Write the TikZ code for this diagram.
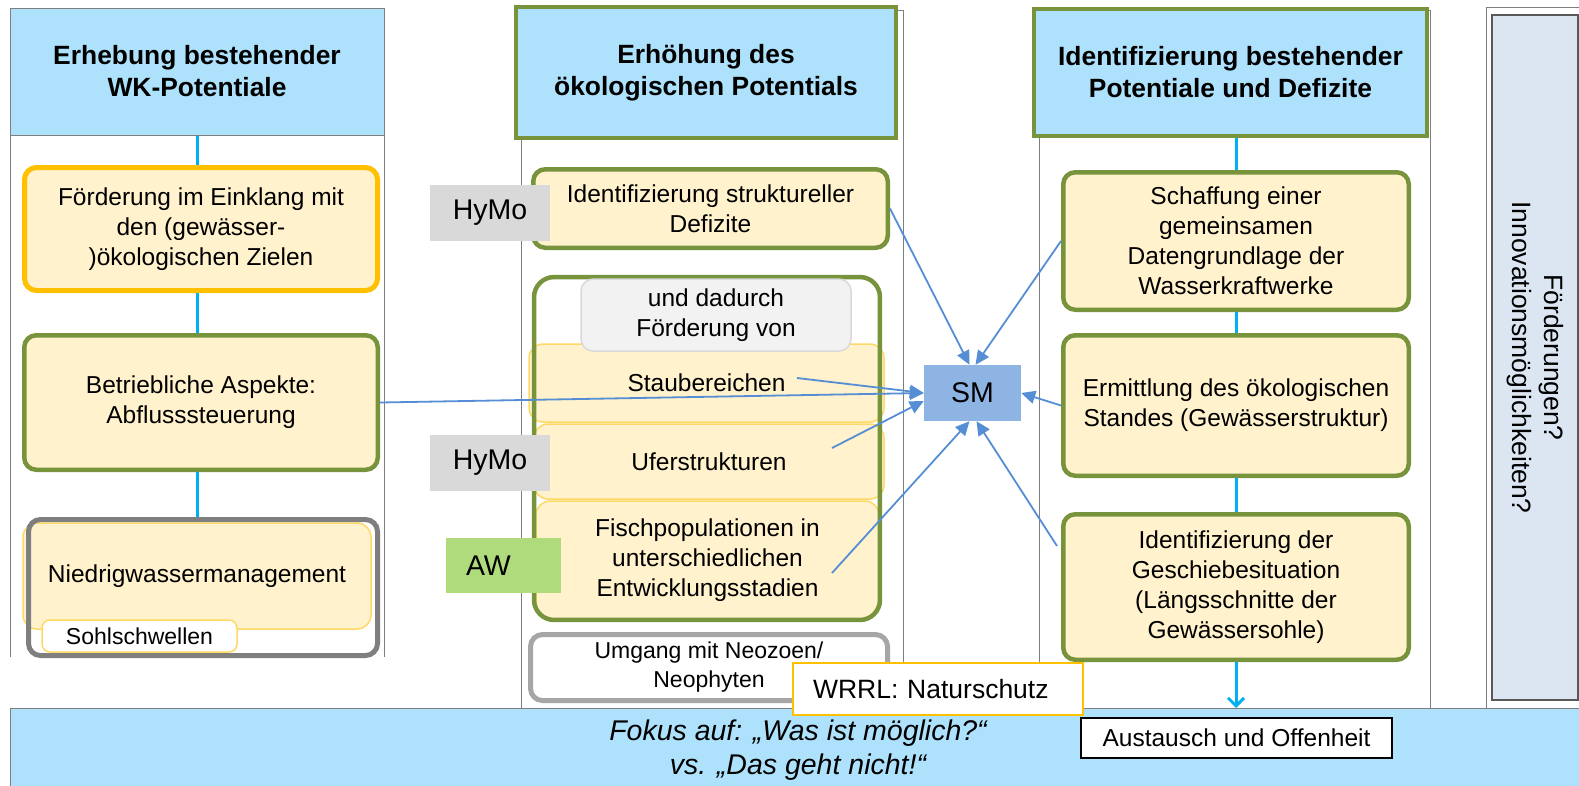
\documentclass[tikz,border=0pt]{standalone}
\usepackage{fontspec}
\setmainfont{Liberation Sans}
\usepackage{tikz}
\usetikzlibrary{arrows.meta}
\definecolor{kopfblau}{RGB}{174,226,252}
\definecolor{gruen}{RGB}{119,147,60}
\definecolor{gelbfill}{RGB}{255,242,204}
\definecolor{gold}{RGB}{255,192,0}
\definecolor{hellgold}{RGB}{255,217,102}
\definecolor{grau}{RGB}{127,127,127}
\definecolor{hellgrau}{RGB}{166,166,166}
\definecolor{hymograu}{RGB}{217,217,217}
\definecolor{awgruen}{RGB}{176,219,125}
\definecolor{smblau}{RGB}{142,180,227}
\definecolor{pfeilblau}{RGB}{85,142,213}
\definecolor{linie}{RGB}{0,176,240}
\definecolor{seitenblau}{RGB}{220,230,242}
\newcommand{\txthead}{\fontsize{26.4}{32}\selectfont\bfseries}
\newcommand{\txtbody}{\fontsize{24.5}{30}\selectfont}
\newcommand{\txtsmall}{\fontsize{23}{29}\selectfont}
\newcommand{\txtmid}{\fontsize{26.5}{32}\selectfont}
\newcommand{\txtbig}{\fontsize{28.5}{34}\selectfont}
\tikzset{
  kopf/.style={draw=grau, line width=1pt, fill=kopfblau, align=center, font=\txthead, inner sep=0pt},
  kasten/.style={draw=gruen, line width=4.5pt, fill=gelbfill, rounded corners=12pt, align=center, font=\txtbody, inner sep=0pt},
  unterkasten/.style={draw=hellgold, line width=1.5pt, fill=gelbfill, rounded corners=14pt, align=center, font=\txtbody, inner sep=0pt},
  marke/.style={inner sep=0pt, font=\txtbig},
  rahmen/.style={draw=grau, line width=1pt},
  zulinie/.style={draw=linie, line width=3pt},
  pfeil/.style={draw=pfeilblau, line width=1.8pt, -{Triangle[length=14pt,width=13pt]}},
}

\begin{document}
\begin{tikzpicture}[x=1pt, y=-1pt]
  \useasboundingbox (0,0) rectangle (1579,785);

  % Spalten
  \draw[rahmen] (10,8) -- (10,657) (384,8) -- (384,657);
  \draw[rahmen] (521,10) rectangle (903,708);
  \draw[rahmen] (1039,10) rectangle (1430,708);
  \draw[rahmen] (1486,708) -- (1486,7) -- (1579,7);

  \node (kopf1) [kopf, minimum width=374pt, minimum height=127pt] at (197,71.5) {Erhebung bestehender\\WK-Potentiale};
  \node (kopf2) [kopf, draw=gruen, line width=4pt, minimum width=380pt, minimum height=131pt] at (706,72.5) {Erhöhung des\\ökologischen Potentials};
  \node (kopf3) [kopf, draw=gruen, line width=4pt, minimum width=393pt, minimum height=127pt] at (1230.5,72.5) {Identifizierung bestehender\\Potentiale und Defizite};

  % links
  \node (ziele) [kasten, draw=gold, line width=5pt, minimum width=353pt, minimum height=123pt] at (201,229) {Förderung im Einklang mit\\den (gewässer-\\)ökologischen Zielen};
  \node (betrieb) [kasten, minimum width=353.5pt, minimum height=134.5pt] at (201,402.5) {Betriebliche Aspekte:\\Abflusssteuerung};
  \node (niedrig) [unterkasten, minimum width=348pt, minimum height=106pt] at (197,576) {Niedrigwassermanagement};
  \node (niedrigrand) [draw=grau, line width=5pt, rounded corners=12pt, minimum width=349pt, minimum height=136pt, inner sep=0pt] at (203,587.5) {};
  \node (sohl) [unterkasten, fill=white, font=\txtsmall, rounded corners=8pt, minimum width=195pt, minimum height=32pt] at (139.5,636) {Sohlschwellen};
  \draw[zulinie] (kopf1.south) -- (kopf1.south |- ziele.north);
  \draw[zulinie] (kopf1.south |- ziele.south) -- (kopf1.south |- betrieb.north);
  \draw[zulinie] (kopf1.south |- betrieb.south) -- (kopf1.south |- niedrigrand.north);

  % Mitte
  \node (defizite) [kasten, minimum width=354.5pt, minimum height=78.5pt] at (710.5,208.5) {Identifizierung struktureller\\Defizite};
  \node (gruppe) [fill=white, rounded corners=20pt, minimum width=345.5pt, minimum height=342.5pt, inner sep=0pt] at (707,448.5) {};
  \node (staub) [unterkasten, minimum width=355pt, minimum height=78pt] at (706.5,383) {Staubereichen};
  \node (ufer) [unterkasten, minimum width=350pt, minimum height=75pt] at (709,461.5) {Uferstrukturen};
  \node (fisch) [unterkasten, minimum width=343pt, minimum height=118pt] at (707.5,560) {Fischpopulationen in\\unterschiedlichen\\Entwicklungsstadien};
  \draw[draw=gruen, line width=4.5pt, rounded corners=20pt] (gruppe.north west) rectangle (gruppe.south east);
  \node (dadurch) [draw=hymograu, line width=1.5pt, fill=black!5, rounded corners=12pt, align=center, font=\txtbody, inner sep=0pt, minimum width=270pt, minimum height=72pt] at (716,315) {und dadurch\\Förderung von};
  \node (hymo1) [marke, fill=hymograu, minimum width=120pt, minimum height=56pt] at (490,213) {HyMo};
  \node (hymo2) [marke, fill=hymograu, minimum width=120pt, minimum height=56pt] at (490,463) {HyMo};
  \node (aw) [marke, fill=awgruen, text width=75pt, align=left, minimum width=115pt, minimum height=55pt] at (503.5,565.5) {AW};
  \node (umgang) [kasten, draw=hellgrau, line width=5pt, fill=white, font=\txtsmall, minimum width=357pt, minimum height=66pt] at (709,667.5) {Umgang mit Neozoen/\\Neophyten};
  \node (sm) [marke, fill=smblau, minimum width=97pt, minimum height=56pt] at (972.5,393) {SM};

  % rechts
  \node (schaffung) [kasten, minimum width=345.5pt, minimum height=137.5pt] at (1236,241) {Schaffung einer\\gemeinsamen\\Datengrundlage der\\Wasserkraftwerke};
  \node (ermittlung) [kasten, minimum width=345.5pt, minimum height=140.5pt] at (1236,405.5) {Ermittlung des ökologischen\\Standes (Gewässerstruktur)};
  \node (geschiebe) [kasten, minimum width=345.5pt, minimum height=145.5pt] at (1236,587) {Identifizierung der\\Geschiebesituation\\(Längsschnitte der\\Gewässersohle)};
  \draw[zulinie] (schaffung.north |- kopf3.south) -- (schaffung.north);
  \draw[zulinie] (schaffung.south) -- (ermittlung.north);
  \draw[zulinie] (ermittlung.south) -- (geschiebe.north);
  \node (seite) [draw=black!65, line width=1.5pt, fill=seitenblau, rotate=-90, align=center, font=\txtmid, minimum width=685pt, minimum height=86pt, inner sep=0pt] at (1535,357.5) {Förderungen?\\Innovationsmöglichkeiten?};

  % Pfeile zu SM
  \coordinate (staubende) at (797,378);
  \coordinate (uferende) at (832,448);
  \coordinate (fischende) at (832,573);
  \coordinate (geschiebelinks) at (1057,546);
  \draw[pfeil] (defizite.east) -- ([xshift=-3pt]sm.north);
  \draw[pfeil] (schaffung.west) -- ([xshift=3pt]sm.north);
  \draw[pfeil] (staubende) -- (sm.west);
  \draw[pfeil] (betrieb.east) -- (sm.west);
  \draw[pfeil] (uferende) -- ([yshift=-8pt]sm.west);
  \draw[pfeil] (fischende) -- ([xshift=-3pt]sm.south);
  \draw[pfeil] (geschiebelinks) -- ([xshift=4pt]sm.south);
  \draw[pfeil] (ermittlung.west) -- (sm.east);

  % Band unten
  \node (band) [fill=kopfblau, draw=grau, line width=1pt, anchor=north west, minimum width=1580pt, minimum height=90pt, inner sep=0pt] at (10,708) {};
  \node (fokus) [font=\txtbig\itshape, align=center] at (798,750) {Fokus auf: „Was ist möglich?“\\vs. „Das geht nicht!“};
  \draw[zulinie, -{Straight Barb[length=8pt,width=16pt]}] (geschiebe.south) -- (geschiebe.south |- band.north);
  \node (austausch) [draw=black, line width=1.2pt, fill=white, font=\txtbody, minimum width=311pt, minimum height=40pt, inner sep=0pt] at (1236.5,738) {Austausch und Offenheit};
  \node (wrrl) [draw=gold, line width=1.5pt, fill=white, font=\txtmid, text width=250pt, align=left, inner xsep=20pt, minimum height=52pt] at (938,689) {WRRL: Naturschutz};
\end{tikzpicture}
\end{document}
